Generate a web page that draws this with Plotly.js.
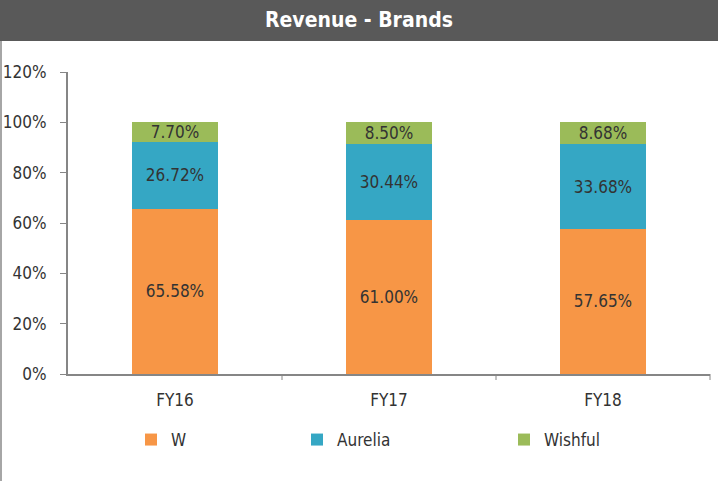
<!DOCTYPE html>
<html>
<head>
<meta charset="utf-8">
<script src="https://cdn.plot.ly/plotly-3.0.1.min.js"></script>
<style>html,body{margin:0;padding:0;background:#fff;}#chart{width:718px;height:481px;}</style>
</head>
<body>
<div id="chart"></div>
<script>
const categories = ["FY16", "FY17", "FY18"];
const seriesNames = ["W", "Aurelia", "Wishful"];
const wValues = [65.58, 61.00, 57.65];
const aureliaValues = [26.72, 30.44, 33.68];
const wishfulValues = [7.70, 8.50, 8.68];
const yTickVals = [0, 20, 40, 60, 80, 100, 120];
const yTickText = ["0%", "20%", "40%", "60%", "80%", "100%", "120%"];
const colors = ["#F79646", "#35A7C4", "#9BBB59"];

const FONT = '"Liberation Sans Narrow", "DejaVu Sans Condensed", "Roboto", sans-serif';
const allValues = [wValues, aureliaValues, wishfulValues];
const legendIds = ["legend", "legend2", "legend3"];

const traces = allValues.map((vals, i) => ({
  type: "bar",
  name: seriesNames[i],
  legend: legendIds[i],
  x: categories,
  y: vals,
  marker: {color: colors[i], line: {width: 0}},
  text: vals.map(v => v.toFixed(2) + "%"),
  textposition: "inside",
  insidetextanchor: "middle",
  constraintext: "none",
  textangle: 0,
  textfont: {family: FONT, size: 17, color: "#333333"},
  hoverinfo: "none"
}));

const L = 68, R = 8, T = 72, B = 107;
const W = 718, H = 481;
const pw = W - L - R, ph = H - T - B;

function legendAt(px) {
  return {
    orientation: "h",
    x: (px - L) / pw, xanchor: "left",
    y: -(437 - (T + ph) - 15) / ph, yanchor: "top",
    font: {family: FONT, size: 17, color: "#333333"},
    itemwidth: 30,
    bgcolor: "rgba(0,0,0,0)"
  };
}

const layout = {
  width: W, height: H,
  margin: {l: L, r: R, t: T, b: B, pad: 0},
  paper_bgcolor: "#ffffff",
  plot_bgcolor: "#ffffff",
  barmode: "stack",
  bargap: 0.6,
  showlegend: true,
  legend: legendAt(131),
  legend2: legendAt(297),
  legend3: legendAt(504),
  font: {family: FONT, color: "#333333"},
  xaxis: {
    type: "category",
    showline: true, linecolor: "#868686", linewidth: 2,
    ticks: "", showgrid: false, zeroline: false,
    tickfont: {family: FONT, size: 17, color: "#333333"},
    ticklabelstandoff: 10
  },
  yaxis: {
    range: [0, 120],
    tickvals: yTickVals, ticktext: yTickText,
    showline: true, linecolor: "#868686", linewidth: 2,
    ticks: "outside", ticklen: 6, tickcolor: "#868686", tickwidth: 1,
    showgrid: false, zeroline: false,
    tickfont: {family: FONT, size: 17, color: "#333333"},
    ticklabelstandoff: 10
  },
  shapes: [
    {type: "rect", xref: "paper", yref: "paper",
     x0: -L / pw, x1: (W - L) / pw, y0: (ph + T - 41) / ph, y1: (ph + T) / ph,
     fillcolor: "#595959", line: {width: 0}, layer: "below"},
    {type: "line", xref: "paper", yref: "paper",
     x0: (-L + 1) / pw, x1: (-L + 1) / pw, y0: -B / ph, y1: (ph + T - 41) / ph,
     line: {color: "#A6A6A6", width: 2}},
    {type: "line", xref: "paper", yref: "paper",
     x0: 1 / 3, x1: 1 / 3, y0: 0, y1: -6 / ph, line: {color: "#868686", width: 1}},
    {type: "line", xref: "paper", yref: "paper",
     x0: 2 / 3, x1: 2 / 3, y0: 0, y1: -6 / ph, line: {color: "#868686", width: 1}},
    {type: "line", xref: "paper", yref: "paper",
     x0: 1, x1: 1, y0: 0, y1: -6 / ph, line: {color: "#868686", width: 1}}
  ],
  annotations: [
    {text: "<b>Revenue - Brands</b>", xref: "paper", yref: "paper",
     x: (W / 2 - L) / pw, y: (ph + T - 20) / ph, xanchor: "center", yanchor: "middle",
     showarrow: false, font: {family: FONT, size: 21, color: "#ffffff"}}
  ]
};

Plotly.newPlot("chart", traces, layout, {displayModeBar: false, staticPlot: true});
</script>
</body>
</html>
